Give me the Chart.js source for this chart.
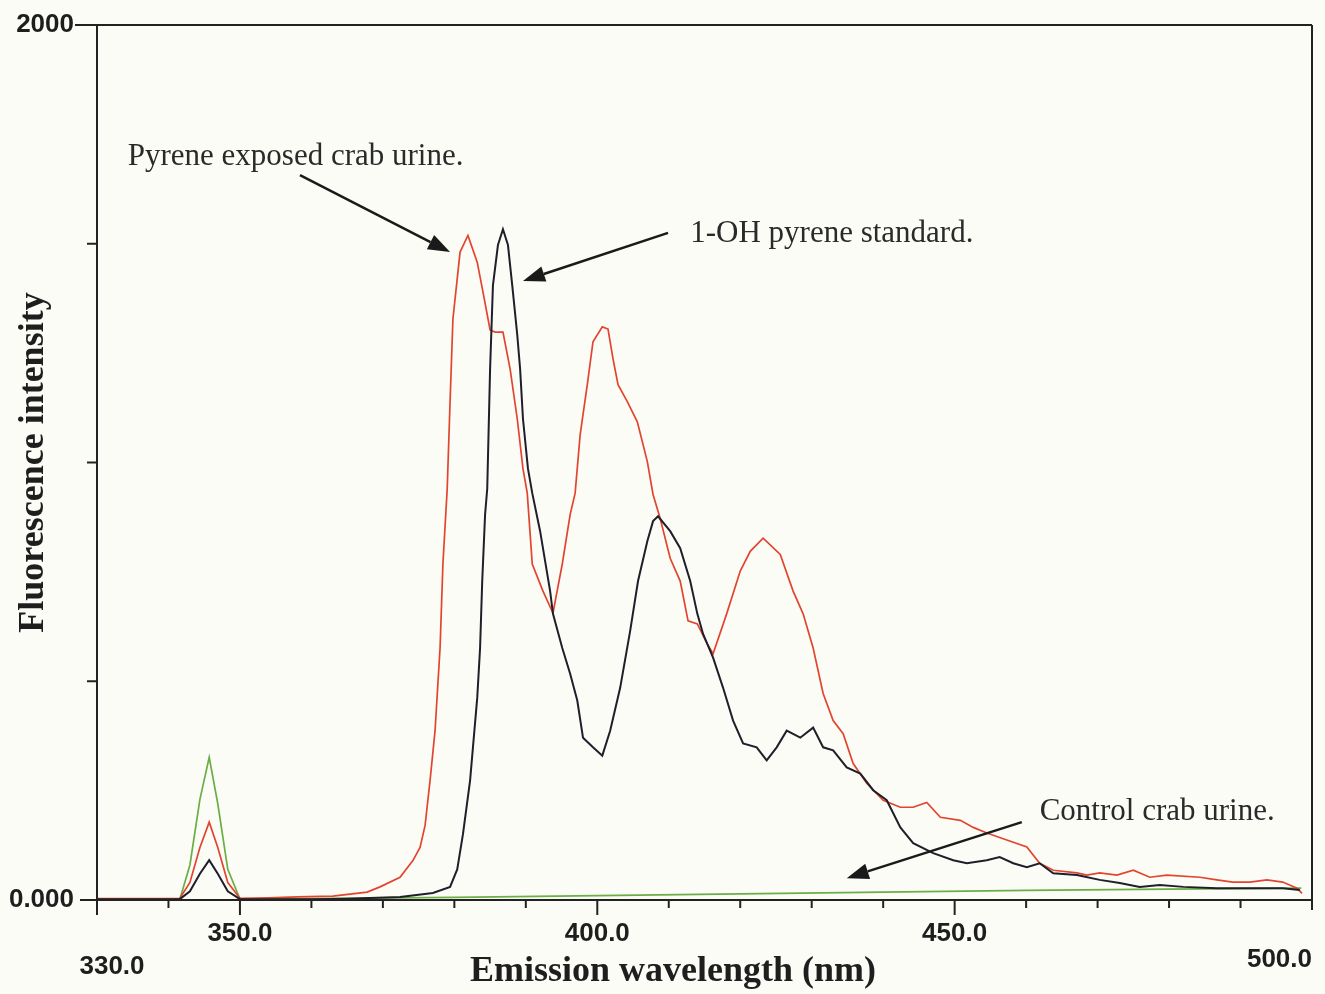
<!DOCTYPE html>
<html><head><meta charset="utf-8">
<script src="https://cdn.jsdelivr.net/npm/chart.js@4.4.1/dist/chart.umd.min.js"></script>
<style>html,body{margin:0;padding:0;background:#fcfcf7;}#wrap{width:1325px;height:994px;}</style>
</head><body><div id="wrap"><canvas id="c" width="1325" height="994"></canvas></div>
<script>
// ---- data ----
const pyreneNm = [330,337,341.6,343.0,344.4,345.7,346.9,348.3,350.0,354,358,363,367.8,369.6,372.4,374.2,375.2,375.9,376.6,377.3,378.0,378.4,379.0,379.4,379.8,380.8,381.9,383.2,384.0,385.0,385.7,386.8,387.8,388.8,389.6,390.2,390.9,392.4,393.8,395.1,396.2,396.9,397.6,398.6,399.4,400.7,401.5,402.2,402.9,404.2,405.6,407.0,407.8,408.8,410.2,411.6,412.7,414.0,415.4,416.2,418.1,420.0,421.4,423.2,425.6,427.4,428.8,430.2,431.6,433.0,434.4,435.8,437.7,440.0,442.4,444.2,446.1,448.0,450.8,452.6,454.5,457.3,460.1,461.9,463.8,467.1,468.5,470.3,472.7,475.0,477.3,479.7,484.3,486.7,488.9,491.3,493.7,495.9,497.9,498.6];
const pyreneVal = [3,3,4,40,120,178,120,40,4,5,7,9,18,30,52,90,120,170,273,387,576,768,940,1139,1328,1481,1519,1458,1390,1303,1298,1298,1214,1100,986,930,768,706,656,768,881,930,1063,1178,1276,1310,1305,1237,1178,1139,1093,1002,927,872,781,729,638,631,585,563,654,752,797,827,790,706,654,576,472,410,380,312,267,228,212,212,223,189,182,166,153,137,121,84,68,62,57,62,57,68,52,57,52,46,41,41,46,41,27,15];

const standardNm = [330,341.6,343.0,344.4,345.7,346.9,348.3,350.0,360,365,372.4,377.0,379.4,380.4,381.2,382.2,383.2,383.6,383.9,384.3,384.6,385.0,385.4,386.1,386.8,387.5,388.1,388.8,389.2,389.6,390.3,390.9,392.0,393.4,393.8,395.1,396.2,397.2,398.0,399.4,400.7,401.8,403.2,404.6,405.7,407.0,407.8,408.5,410.2,411.6,413.0,414.0,414.8,416.2,417.6,419.0,420.4,422.3,423.7,425.1,426.5,428.4,430.2,431.6,433.0,434.9,436.8,438.6,440.5,442.4,444.2,447.0,449.8,451.7,454.5,456.3,458.2,460.1,461.9,463.8,467.1,470.3,473.1,475.9,478.7,482.0,486.7,491.3,495.9,498.3];
const standardVal = [2,2,20,60,91,60,20,2,2,3,7,16,30,70,150,273,462,576,729,881,940,1214,1405,1497,1533,1497,1405,1292,1214,1100,986,930,843,706,654,576,517,456,371,349,330,387,485,615,729,820,866,877,843,804,729,654,608,554,485,410,358,349,319,349,387,371,394,349,342,303,289,251,228,166,130,107,91,84,91,98,84,75,84,61,57,46,39,30,34,30,27,27,27,23];

const controlNm = [330,341.6,343.0,344.4,345.7,346.9,348.3,350.0,360,380,400,420,440,460,480,498.5];
const controlVal = [2,2,80,230,326,220,70,2,3,6,10,14,18,22,25,27];

const xTicks = [330,340,350,360,370,380,390,400,410,420,430,440,450,460,470,480,490,500];
const xLabelValues = [330,350,400,450,500];
const xLabelText = ['330.0','350.0','400.0','450.0','500.0'];
const yTicks = [0,500,1000,1500,2000];
const yLabelValues = [0,2000];
const yLabelText = ['0.000','2000'];
const xTitle = 'Emission wavelength (nm)';
const yTitle = 'Fluorescence intensity';

const annotText = ['Pyrene exposed crab urine.','1-OH pyrene standard.','Control crab urine.'];
const annotX = [334.3,413.0,461.9];
const annotY = [1680,1504,183];
const arrowFromX = [358.4,409.9,459.4];
const arrowFromY = [1657,1525,178];
const arrowToX = [379.4,389.6,434.9];
const arrowToY = [1481,1415,50];

const toXY = (xs, ys) => xs.map((v, i) => ({x: v, y: ys[i]}));
const TICK_FONT = 'bold 26px "Liberation Sans", Arial, sans-serif';
const SERIF = '"Liberation Serif", "Times New Roman", serif';

const decor = {
  id: 'decor',
  beforeDraw(chart) {
    const c = chart.ctx;
    c.save(); c.fillStyle = '#fcfcf7'; c.fillRect(0, 0, chart.width, chart.height); c.restore();
  },
  afterDraw(chart) {
    const c = chart.ctx, a = chart.chartArea, xs = chart.scales.x, ys = chart.scales.y;
    c.save();
    c.strokeStyle = '#222'; c.lineWidth = 2; c.lineCap = 'butt';
    c.beginPath();
    c.moveTo(a.left, a.top); c.lineTo(a.left, a.bottom);
    c.moveTo(a.left - 17, a.bottom); c.lineTo(a.right, a.bottom);
    c.moveTo(a.left - 22, a.top); c.lineTo(a.right, a.top);
    c.moveTo(a.right, a.top); c.lineTo(a.right, a.bottom);
    xTicks.forEach(v => {
      const px = xs.getPixelForValue(v);
      const len = v === 500 ? 10 : (xLabelValues.includes(v) ? 15 : 8);
      c.moveTo(px, a.bottom); c.lineTo(px, a.bottom + len);
    });
    yTicks.forEach(v => {
      const py = ys.getPixelForValue(v);
      const len = v === 2000 ? 22 : (v === 0 ? 17 : 10);
      c.moveTo(a.left - len, py); c.lineTo(a.left, py);
    });
    c.stroke();
    // x tick labels
    c.fillStyle = '#1e1e1e';
    c.textBaseline = 'alphabetic';
    c.font = TICK_FONT;
    xLabelValues.forEach((v, i) => {
      const px = xs.getPixelForValue(v);
      if (v === 330) { c.textAlign = 'center'; c.fillText(xLabelText[i], px + 15, a.bottom + 74); }
      else if (v === 500) { c.textAlign = 'right'; c.fillText(xLabelText[i], px, a.bottom + 67); }
      else { c.textAlign = 'center'; c.fillText(xLabelText[i], px, a.bottom + 41); }
    });
    // x axis title
    c.font = 'bold 36px ' + SERIF;
    c.textAlign = 'center';
    c.fillText(xTitle, xs.getPixelForValue(330) + 576, a.bottom + 81);
    // annotations
    c.fillStyle = '#2a2a2a';
    c.textAlign = 'left';
    c.font = '31px ' + SERIF;
    annotText.forEach((t, i) => {
      c.fillText(t, xs.getPixelForValue(annotX[i]), ys.getPixelForValue(annotY[i]));
    });
    // arrows
    c.strokeStyle = '#1a1a1a'; c.fillStyle = '#1a1a1a'; c.lineWidth = 2.5;
    arrowFromX.forEach((fx, i) => {
      const x0 = xs.getPixelForValue(fx), y0 = ys.getPixelForValue(arrowFromY[i]);
      const x1 = xs.getPixelForValue(arrowToX[i]), y1 = ys.getPixelForValue(arrowToY[i]);
      const ang = Math.atan2(y1 - y0, x1 - x0), L = 22, W = 8;
      const bx = x1 - L * Math.cos(ang), by = y1 - L * Math.sin(ang);
      c.beginPath(); c.moveTo(x0, y0); c.lineTo(bx, by); c.stroke();
      c.beginPath();
      c.moveTo(x1, y1);
      c.lineTo(bx + W * Math.sin(ang), by - W * Math.cos(ang));
      c.lineTo(bx - W * Math.sin(ang), by + W * Math.cos(ang));
      c.closePath(); c.fill();
    });
    c.restore();
  }
};

new Chart(document.getElementById('c'), {
  type: 'line',
  data: {
    datasets: [
      {label: '1-OH pyrene standard.', data: toXY(standardNm, standardVal), borderColor: '#1f1f2a', borderWidth: 2, pointRadius: 0, tension: 0},
      {label: 'Pyrene exposed crab urine.', data: toXY(pyreneNm, pyreneVal), borderColor: '#e2452f', borderWidth: 1.7, pointRadius: 0, tension: 0},
      {label: 'Control crab urine.', data: toXY(controlNm, controlVal), borderColor: '#6aae45', borderWidth: 1.7, pointRadius: 0, tension: 0}
    ]
  },
  options: {
    responsive: false, animation: false, devicePixelRatio: 1,
    layout: {padding: {top: 25, right: 13, left: 0, bottom: 0}},
    plugins: {legend: {display: false}, tooltip: {enabled: false}},
    scales: {
      x: {
        type: 'linear', min: 330, max: 500,
        afterBuildTicks: s => { s.ticks = xTicks.map(v => ({value: v})); },
        ticks: {display: false},
        grid: {display: false, drawTicks: false},
        border: {display: false},
        title: {display: false},
        afterFit: s => { s.height = 94; s.paddingLeft = 0; s.paddingRight = 0; }
      },
      y: {
        min: 0, max: 2000,
        afterBuildTicks: s => { s.ticks = yTicks.map(v => ({value: v})); },
        ticks: {
          autoSkip: false, padding: 23, color: '#1e1e1e',
          font: {family: '"Liberation Sans", Arial, sans-serif', size: 26, weight: 'bold'},
          callback: v => { const k = yLabelValues.indexOf(v); return k >= 0 ? yLabelText[k] : ''; }
        },
        grid: {display: false, drawTicks: false},
        border: {display: false},
        title: {display: true, text: yTitle, color: '#1e1e1e',
                font: {family: SERIF, size: 36, weight: 'bold'},
                padding: {top: 12, bottom: 0}},
        afterFit: s => { s.width = 97; s.paddingTop = 0; s.paddingBottom = 0; }
      }
    }
  },
  plugins: [decor]
});
</script></body></html>
